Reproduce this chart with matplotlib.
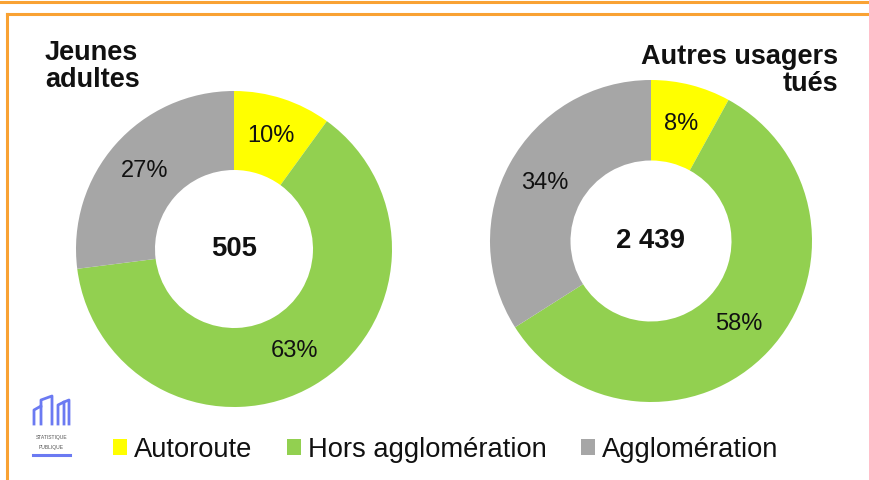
import matplotlib

matplotlib.use("Agg")
from matplotlib import pyplot as plt
from matplotlib.lines import Line2D

plt.rcParams['font.family'] = ['Liberation Sans', 'DejaVu Sans']

W, H = 870, 480

categories = ['Autoroute', 'Hors agglomération', 'Agglomération']
colors = ['#FFFF00', '#92D050', '#A6A6A6']

jeunes_pct = [10, 63, 27]
jeunes_total = '505'
jeunes_title = 'Jeunes\nadultes'

autres_pct = [8, 58, 34]
autres_total = '2 439'
autres_title = 'Autres usagers\ntués'

ORANGE = '#F9A233'
TEXT = '#111111'
LOGO = '#6B7AF2'


def px_axes(fig, cx, cy, r, lim=1.05):
    """Square axes whose unit circle has radius r pixels, centred at (cx, cy) from top-left."""
    size = 2 * lim * r
    ax = fig.add_axes([(cx - size / 2) / W, (H - cy - size / 2) / H, size / W, size / H])
    ax.set_xlim(-lim, lim)
    ax.set_ylim(-lim, lim)
    ax.set_aspect('equal')
    ax.axis('off')
    return ax


def donut(ax, values, total):
    wedges, _, autotexts = ax.pie(
        values, colors=colors, startangle=90, counterclock=False, radius=1,
        wedgeprops=dict(width=0.5, edgecolor='none'),
        autopct=lambda p: '{:.0f}%'.format(p), pctdistance=0.75,
        textprops=dict(fontsize=17, color=TEXT))
    ax.set_xlim(-1.05, 1.05)
    ax.set_ylim(-1.05, 1.05)
    ax.text(0, 0, total, ha='center', va='center', fontsize=19.8,
            fontweight='bold', color=TEXT)
    return wedges


fig = plt.figure(figsize=(W / 100, H / 100), dpi=100)
fig.patch.set_facecolor('white')

# orange frame lines
fig.add_artist(Line2D([0, 1], [1 - 1.5 / H, 1 - 1.5 / H], color=ORANGE, lw=2.2))
fig.add_artist(Line2D([7.5 / W, 1], [1 - 14 / H, 1 - 14 / H], color=ORANGE, lw=2.2))
fig.add_artist(Line2D([7.5 / W, 7.5 / W], [0, 1 - 14 / H], color=ORANGE, lw=2.2))

ax1 = px_axes(fig, 234, 249, 158)
wedges = donut(ax1, jeunes_pct, jeunes_total)

ax2 = px_axes(fig, 651, 241, 161)
donut(ax2, autres_pct, autres_total)

fig.text(45 / W, 1 - 40 / H, jeunes_title, ha='left', va='top', fontsize=19.5,
         fontweight='bold', color=TEXT, linespacing=1.05)
fig.text(838 / W, 1 - 44 / H, autres_title, ha='right', va='top', fontsize=19.5,
         fontweight='bold', color=TEXT, linespacing=1.05, multialignment='right')

fig.legend(wedges, categories, loc='center left', bbox_to_anchor=(113 / W, 1 - 450 / H),
           ncol=3, frameon=False, fontsize=19.7, handlelength=0.52, handleheight=0.52,
           handletextpad=0.25, columnspacing=1.25, borderaxespad=0, borderpad=0,
           labelcolor=TEXT)

# small "statistique publique" logo
lax = fig.add_axes([28 / W, 1 - 462 / H, 46 / W, 70 / H])
lax.set_xlim(28, 74)
lax.set_ylim(462, 392)
lax.axis('off')
lax.plot([34, 34, 41, 41], [424, 410, 406, 424], color=LOGO, lw=2)
lax.plot([41, 41, 52, 52], [406, 400, 396, 424], color=LOGO, lw=2)
lax.plot([58, 58, 64, 64], [424, 405, 402, 424], color=LOGO, lw=2)
lax.plot([64, 69, 69], [402, 400, 424], color=LOGO, lw=2)
lax.plot([33, 70], [455, 455], color=LOGO, lw=2.2)
lax.text(51.5, 437, 'STATISTIQUE', ha='center', va='center', fontsize=3.6, color='#555555')
lax.text(51.5, 447, 'PUBLIQUE', ha='center', va='center', fontsize=3.6, color='#555555')

fig.savefig('out.png', dpi=100)
